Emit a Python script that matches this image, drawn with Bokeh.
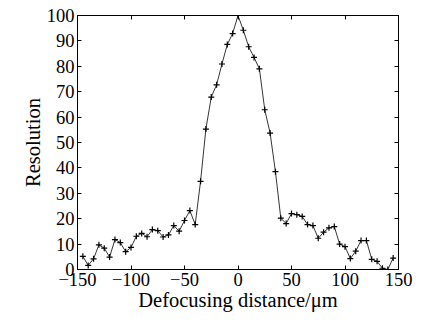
from bokeh.plotting import figure
from bokeh.models import LinearAxis, FixedTicker, Range1d
from bokeh.embed import file_html
from bokeh.resources import INLINE

distance = list(range(-145, 150, 5))
resolution = [5.2, 1.6, 4.2, 9.7, 8.4, 4.9, 11.8, 10.6, 7.0, 8.7,
              13.1, 14.2, 12.9, 15.7, 15.3, 12.8, 13.6, 17.3, 15.1, 19.3,
              23.2, 17.7, 34.7, 55.3, 67.9, 72.7, 80.9, 88.6, 92.9, 100.0,
              94.2, 87.7, 83.5, 79.0, 62.9, 53.7, 38.5, 20.2, 18.1, 22.0,
              21.6, 20.9, 17.7, 17.3, 12.3, 14.7, 16.4, 16.9, 10.0, 9.0,
              4.3, 7.2, 11.4, 11.4, 4.0, 3.2, 0.5, 0.0, 4.5]
x_ticks = [-150, -100, -50, 0, 50, 100, 150]
y_ticks = [0, 10, 20, 30, 40, 50, 60, 70, 80, 90, 100]
x_labels = {t: (str(t).replace("-", "\u2212")) for t in x_ticks}

FONT = "Liberation Serif"

p = figure(width=423, height=315, output_backend="svg", toolbar_location=None,
           x_range=Range1d(-150, 150), y_range=Range1d(0, 100),
           min_border_left=77, min_border_right=25, min_border_top=15, min_border_bottom=46,
           x_axis_label="Defocusing distance/\u03bcm", y_axis_label="Resolution")
p.xgrid.visible = False
p.ygrid.visible = False
p.outline_line_color = "black"
p.outline_line_width = 1

p.line(distance, resolution, line_color="black", line_width=0.8)
p.scatter(distance, resolution, marker="cross", size=6, line_color="black", line_width=1.2)

bottom = p.xaxis[0]
left = p.yaxis[0]
bottom.ticker = FixedTicker(ticks=x_ticks)
bottom.major_label_overrides = x_labels
left.ticker = FixedTicker(ticks=y_ticks)

top = LinearAxis(ticker=FixedTicker(ticks=x_ticks),
                 major_label_overrides={t: "" for t in x_ticks})
right = LinearAxis(ticker=FixedTicker(ticks=y_ticks),
                   major_label_overrides={t: "" for t in y_ticks})
p.add_layout(top, "above")
p.add_layout(right, "right")

for ax in [bottom, left, top, right]:
    ax.major_tick_in = 4
    ax.major_tick_out = 0
    ax.minor_tick_line_color = None
    ax.axis_line_color = "black"
    ax.major_tick_line_color = "black"
    ax.major_label_text_font = FONT
    ax.major_label_text_color = "black"
    ax.axis_label_text_font = FONT
    ax.axis_label_text_font_style = "normal"
    ax.axis_label_text_color = "black"

for ax in [bottom, left]:
    ax.major_label_text_font_size = "18.5px"
    ax.axis_label_text_font_size = "20.5px"
    ax.major_label_standoff = 3
    ax.axis_label_standoff = 0

top.major_label_standoff = 0
right.major_label_standoff = 0

open("out.html", "w").write(file_html(p, INLINE))
